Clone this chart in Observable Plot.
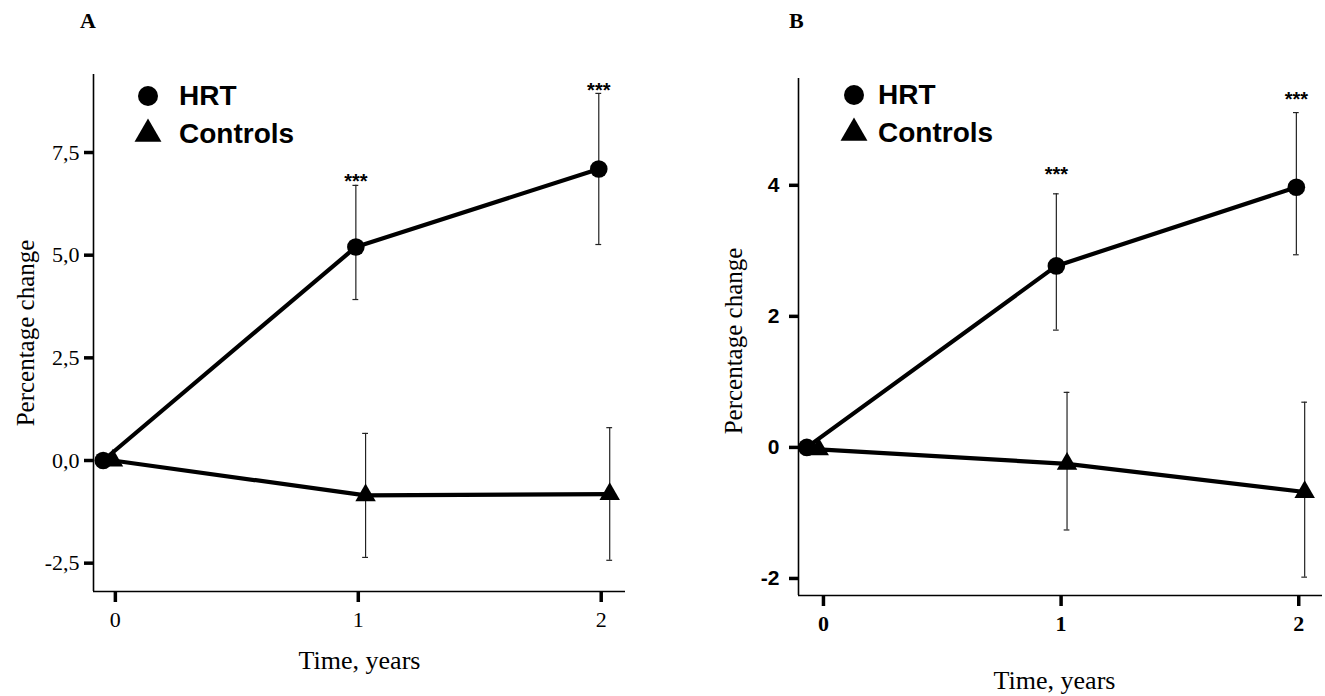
<!DOCTYPE html>
<html>
<head>
<meta charset="utf-8">
<script src="https://cdn.jsdelivr.net/npm/d3@7"></script>
<script src="https://cdn.jsdelivr.net/npm/@observablehq/plot@0.6"></script>
<style>
  html, body { margin: 0; padding: 0; background: #fff; }
  body { width: 1325px; height: 696px; position: relative; overflow: hidden; font-family: "Liberation Serif", "Times New Roman", serif; }
  .panel { position: absolute; top: 0; }
  .panel svg { background: transparent !important; }
  .tag { position: absolute; font: bold 22px "Liberation Serif", serif; color: #000; line-height: 1; }
  .leg { position: absolute; }
  .leg > div { display: flex !important; flex-direction: column !important; align-items: flex-start !important; margin: 0 !important; min-height: 0 !important; font: bold 28px "Liberation Sans", Arial, sans-serif !important; color: #000; }
  .leg > div > span { display: flex !important; align-items: center !important; height: 38px !important; margin: 0 !important; }
  .leg > div > span > svg { overflow: visible; }
</style>
</head>
<body>
<div class="tag" style="left:80px; top:10px;">A</div>
<div class="tag" style="left:789px; top:10px;">B</div>
<div id="A" class="panel" style="left:0px; width:660px;"></div>
<div id="B" class="panel" style="left:680px; width:645px;"></div>
<div id="legA" class="leg" style="left:140px; top:77px;"></div>
<div id="legB" class="leg" style="left:846px; top:76px;"></div>
<script>
// ---------- data ----------
const years = [0, 1, 2];
const groups = ["HRT", "Controls"];
const symbols = ["circle", "triangle"];

// Panel A
const aHrtTime  = [-0.05, 0.99, 1.99];
const aHrtValue = [0.0, 5.2, 7.1];
const aHrtLow   = [null, 3.92, 5.26];
const aHrtHigh  = [null, 6.70, 8.94];
const aCtrlTime  = [-0.01, 1.03, 2.035];
const aCtrlValue = [0.0, -0.85, -0.82];
const aCtrlLow   = [null, -2.36, -2.43];
const aCtrlHigh  = [null, 0.66, 0.80];
const aStarY     = [null, 6.92, 9.13];
const aYTicks    = [-2.5, 0, 2.5, 5, 7.5];
const aXDomain   = [-0.09, 2.10];
const aYDomain   = [-3.19, 9.40];

// Panel B
const bHrtTime  = [-0.07, 0.98, 1.99];
const bHrtValue = [0.0, 2.77, 3.97];
const bHrtLow   = [null, 1.79, 2.94];
const bHrtHigh  = [null, 3.87, 5.11];
const bCtrlTime  = [-0.02, 1.025, 2.025];
const bCtrlValue = [-0.03, -0.25, -0.68];
const bCtrlLow   = [null, -1.26, -1.98];
const bCtrlHigh  = [null, 0.84, 0.69];
const bStarY     = [null, 4.24, 5.39];
const bYTicks    = [-2, 0, 2, 4];
const bXDomain   = [-0.105, 2.10];
const bYDomain   = [-2.26, 5.63];

// ---------- drawing ----------
function rows(group, time, value, low, high, star) {
  return time.map((t, i) => ({group, t, v: value[i], lo: low[i], hi: high[i], star: star ? star[i] : null}));
}

function panel(host, cfg) {
  const hrt = rows(groups[0], cfg.hrtTime, cfg.hrtValue, cfg.hrtLow, cfg.hrtHigh, cfg.starY);
  const ctrl = rows(groups[1], cfg.ctrlTime, cfg.ctrlValue, cfg.ctrlLow, cfg.ctrlHigh, null);
  const all = hrt.concat(ctrl);
  const bars = all.filter(d => d.lo != null);
  const caps = bars.flatMap(d => [{t: d.t, y: d.lo}, {t: d.t, y: d.hi}]);
  const stars = hrt.filter(d => d.star != null);
  const svg = Plot.plot({
    width: cfg.width,
    height: 696,
    marginLeft: cfg.marginLeft,
    marginRight: cfg.marginRight,
    marginTop: cfg.marginTop,
    marginBottom: cfg.marginBottom,
    style: {fontFamily: "'Liberation Serif', 'Times New Roman', serif", fontSize: "20px", color: "#000", background: "transparent"},
    x: {domain: cfg.xDomain},
    y: {domain: cfg.yDomain},
    marks: [
      Plot.ruleX([cfg.xDomain[0]], {stroke: "#000", strokeWidth: 1.6}),
      Plot.ruleY([cfg.yDomain[0]], {stroke: "#000", strokeWidth: 1.6}),
      Plot.axisY({ticks: cfg.yTicks, tickFormat: cfg.yFormat, tickSize: 9, tickPadding: cfg.yPad, strokeWidth: 3.5, label: null}),
      Plot.axisX({ticks: years, tickFormat: d => String(d), tickSize: 11, tickPadding: 9, strokeWidth: 3.5, label: null}),
      Plot.ruleX(bars, {x: "t", y1: "lo", y2: "hi", stroke: "#222", strokeWidth: 1.2}),
      Plot.ruleY(caps, {x1: d => d.t - 0.012, x2: d => d.t + 0.012, y: "y", stroke: "#222", strokeWidth: 1.2}),
      Plot.line(all, {x: "t", y: "v", z: "group", stroke: "#000", strokeWidth: 4.2}),
      Plot.dot(hrt, {x: "t", y: "v", symbol: () => symbols[0], fill: "#000", stroke: "none", r: 8.8}),
      Plot.dot(ctrl, {x: "t", y: "v", symbol: () => symbols[1], fill: "#000", stroke: "none", r: 7.6}),
      Plot.text(stars, {x: "t", y: "star", text: () => "***", dy: 5, fontSize: 20, fontWeight: "bold",
                        fontFamily: "'Liberation Sans', Arial, sans-serif"}),
      Plot.text(["Percentage change"], {frameAnchor: "left", text: d => d, rotate: -90, textAnchor: "middle", lineAnchor: "middle",
                                        dx: cfg.yLabelDx, dy: cfg.yLabelDy, fontSize: 25}),
      Plot.text(["Time, years"], {frameAnchor: "bottom", text: d => d, textAnchor: "middle", lineAnchor: "middle",
                                  dx: cfg.xLabelDx, dy: cfg.xLabelDy, fontSize: 26})
    ]
  });
  host.append(svg);
  // tick label fonts: find the axis tick texts by their content and anchor
  const yLabels = new Set(cfg.yTicks.map(cfg.yFormat));
  const xLabels = new Set(years.map(String));
  svg.querySelectorAll("text").forEach(t => {
    const s = t.textContent.trim();
    const anchor = getComputedStyle(t).textAnchor;
    let f = null;
    if (anchor === "end" && yLabels.has(s)) f = cfg.yFont;
    else if (anchor === "middle" && xLabels.has(s)) f = cfg.xFont;
    if (f) {
      t.style.fontSize = f.size + "px";
      t.style.fontFamily = f.family;
      t.style.fontWeight = f.weight;
    }
  });
  return svg;
}

const commaFmt = d => d.toFixed(1).replace(".", ",");
const serif = "'Liberation Serif', 'Times New Roman', serif";
const sans = "'Liberation Sans', Arial, sans-serif";

panel(document.getElementById("A"), {
  width: 660, marginLeft: 93, marginRight: 35, marginTop: 74, marginBottom: 105,
  xDomain: aXDomain, yDomain: aYDomain, yTicks: aYTicks, yFormat: commaFmt, yPad: 5,
  yFont: {size: 22, family: serif, weight: "normal"},
  xFont: {size: 22, family: serif, weight: "normal"},
  hrtTime: aHrtTime, hrtValue: aHrtValue, hrtLow: aHrtLow, hrtHigh: aHrtHigh,
  ctrlTime: aCtrlTime, ctrlValue: aCtrlValue, ctrlLow: aCtrlLow, ctrlHigh: aCtrlHigh, starY: aStarY,
  yLabelDx: -68, yLabelDy: 0, xLabelDx: 0, xLabelDy: 69
});

panel(document.getElementById("B"), {
  width: 645, marginLeft: 118, marginRight: 3, marginTop: 78, marginBottom: 101,
  xDomain: bXDomain, yDomain: bYDomain, yTicks: bYTicks, yFormat: d => String(d), yPad: 10,
  yFont: {size: 21, family: sans, weight: "bold"},
  xFont: {size: 22, family: serif, weight: "bold"},
  hrtTime: bHrtTime, hrtValue: bHrtValue, hrtLow: bHrtLow, hrtHigh: bHrtHigh,
  ctrlTime: bCtrlTime, ctrlValue: bCtrlValue, ctrlLow: bCtrlLow, ctrlHigh: bCtrlHigh, starY: bStarY,
  yLabelDx: -65, yLabelDy: 4, xLabelDx: -6, xLabelDy: 85
});

function legend(id, gap) {
  const leg = Plot.legend({symbol: {domain: groups, range: symbols}, fill: "#000", stroke: "none", r: 10, swatchSize: 16});
  document.getElementById(id).append(leg);
  document.querySelectorAll("#" + id + " svg").forEach(s => { s.style.marginRight = gap + "px"; });
}
legend("legA", 23);
legend("legB", 16);
</script>
</body>
</html>
